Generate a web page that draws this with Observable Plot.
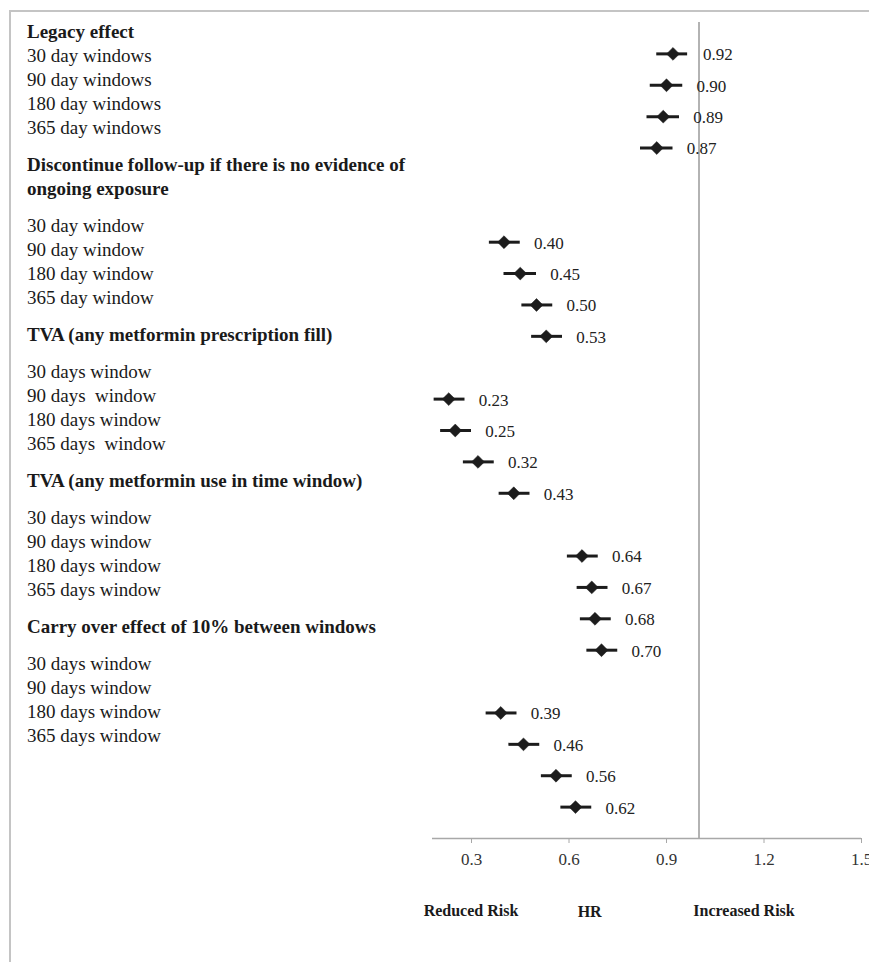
<!DOCTYPE html>
<html>
<head>
<meta charset="utf-8">
<script src="https://cdn.jsdelivr.net/npm/d3@7"></script>
<script src="https://cdn.jsdelivr.net/npm/@observablehq/plot@0.6"></script>
<style>
  html, body { margin: 0; padding: 0; background: #fff; overflow: hidden; }
  #wrap { position: relative; width: 869px; height: 962px; font-family: "Liberation Serif", "Times New Roman", serif; color: #1a1a1a; }
  #chart { position: absolute; left: 0; top: 0; }
  #border { position: absolute; left: 9px; top: 10px; width: 900px; height: 1000px;
            border-top: 2px solid #c4c4c4; border-left: 2px solid #c4c4c4; pointer-events: none; }
  #labels { position: absolute; left: 27px; top: 20px; font-size: 19px; line-height: 24px; white-space: pre; }
  #labels .h { font-weight: bold; }
  #labels .gap { height: 13px; }
  .foot { position: absolute; font-weight: bold; font-size: 16px; transform: translate(-50%, -50%); white-space: nowrap; }
</style>
</head>
<body>
<div id="wrap">
  <div id="chart"></div>
  <div id="labels"></div>
  <div id="border"></div>
</div>
<script>
// ---- data ----
const groupTitles = [
  "Legacy effect",
  "Discontinue follow-up if there is no evidence of\nongoing exposure",
  "TVA (any metformin prescription fill)",
  "TVA (any metformin use in time window)",
  "Carry over effect of 10% between windows"
];
const windowLabels = [
  ["30 day windows", "90 day windows", "180 day windows", "365 day windows"],
  ["30 day window", "90 day window", "180 day window", "365 day window"],
  ["30 days window", "90 days  window", "180 days window", "365 days  window"],
  ["30 days window", "90 days window", "180 days window", "365 days window"],
  ["30 days window", "90 days window", "180 days window", "365 days window"]
];
// plotted estimates (row = vertical slot of the Excel scatter)
const rows = [0, 1, 2, 3, 6, 7, 8, 9, 11, 12, 13, 14, 16, 17, 18, 19, 21, 22, 23, 24];
const hr   = [0.92, 0.90, 0.89, 0.87, 0.40, 0.45, 0.50, 0.53, 0.23, 0.25, 0.32, 0.43, 0.64, 0.67, 0.68, 0.70, 0.39, 0.46, 0.56, 0.62];
const lo   = [0.87, 0.85, 0.84, 0.82, 0.355, 0.40, 0.455, 0.485, 0.185, 0.205, 0.275, 0.385, 0.595, 0.625, 0.635, 0.655, 0.345, 0.415, 0.515, 0.575];
const hi   = [0.965, 0.95, 0.94, 0.92, 0.45, 0.50, 0.55, 0.58, 0.28, 0.30, 0.37, 0.48, 0.69, 0.72, 0.73, 0.75, 0.44, 0.51, 0.61, 0.67];
const xTicks = [0.3, 0.6, 0.9, 1.2, 1.5];
const xDomain = [0.18, 1.5];
const yDomain = [-1, 25];
const refValue = 1;
const footLabels = ["Reduced Risk", "HR", "Increased Risk"];
const footValues = [0.3, 0.665, 1.14];

const data = rows.map((r, i) => ({row: r, hr: hr[i], lo: lo[i], hi: hi[i]}));

// ---- left text column ----
const lab = document.getElementById("labels");
groupTitles.forEach((t, g) => {
  if (g > 0) { const d = document.createElement("div"); d.className = "gap"; lab.appendChild(d); }
  const h = document.createElement("div"); h.className = "h"; h.textContent = t; lab.appendChild(h);
  if (g > 0) { const d = document.createElement("div"); d.className = "gap"; lab.appendChild(d); }
  windowLabels[g].forEach(w => { const d = document.createElement("div"); d.textContent = w; lab.appendChild(d); });
});

// ---- chart ----
const ink = "#1c1c1c";
const plot = Plot.plot({
  width: 869,
  height: 962,
  marginLeft: 432,
  marginRight: 8,
  marginTop: 22,
  marginBottom: 124,
  style: {background: "transparent", fontFamily: "'Liberation Serif', 'Times New Roman', serif", overflow: "visible"},
  x: {domain: xDomain},
  y: {domain: yDomain, reverse: true, axis: null},
  marks: [
    Plot.ruleX([refValue], {stroke: "#9a9a9a", strokeWidth: 1.5}),
    Plot.ruleY([yDomain[1]], {stroke: "#a8a8a8", strokeWidth: 1.5}),
    Plot.axisX({ticks: xTicks, tickFormat: d => d.toFixed(1), tickSize: 5, tickPadding: 9,
                stroke: "#a8a8a8", color: "#333", fontSize: 17, label: null}),
    Plot.ruleY(data, {y: "row", x1: "lo", x2: "hi", stroke: ink, strokeWidth: 3}),
    Plot.dot(data, {x: "hr", y: "row", symbol: "diamond2", r: 5.8, fill: ink, stroke: ink, strokeWidth: 0.5}),
    Plot.text(data, {x: "hr", y: "row", text: d => d.hr.toFixed(2), dx: 30, dy: 1, textAnchor: "start",
                     fontSize: 17, fill: "#222"})
  ]
});
document.getElementById("chart").appendChild(plot);

// ---- footer labels, positioned through the x scale ----
const xs = plot.scale("x");
const wrap = document.getElementById("wrap");
footLabels.forEach((t, i) => {
  const d = document.createElement("div");
  d.className = "foot";
  d.textContent = t;
  d.style.left = (xs.apply(footValues[i])) + "px";
  d.style.top = (i === 1 ? 912 : 911) + "px";
  wrap.appendChild(d);
});
</script>
</body>
</html>
